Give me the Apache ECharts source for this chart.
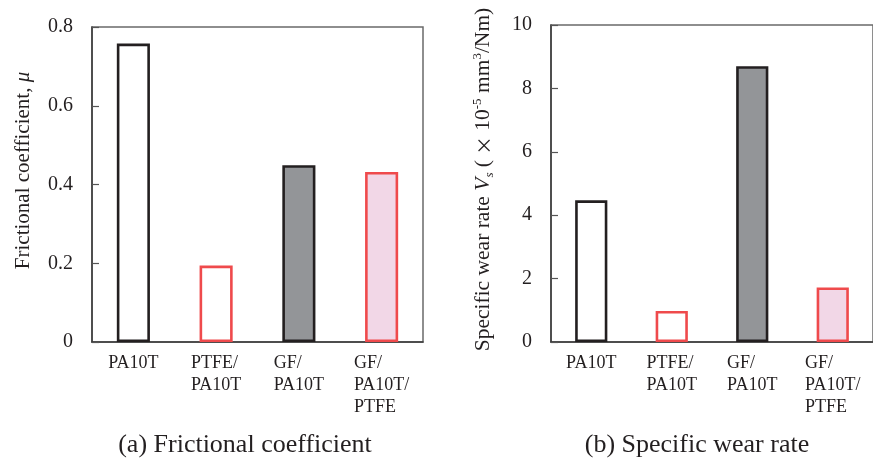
<!DOCTYPE html>
<html>
<head>
<meta charset="utf-8">
<script src="https://cdn.jsdelivr.net/npm/echarts@6/dist/echarts.min.js"></script>
<style>
html,body{margin:0;padding:0;background:#fff;}
#chart{width:873px;height:460px;}
</style>
</head>
<body>
<div id="chart"></div>
<script>
const categories = ['PA10T', 'PTFE/\nPA10T', 'GF/\nPA10T', 'GF/\nPA10T/\nPTFE'];
const frictionValues = [0.758, 0.194, 0.449, 0.432];
const wearValues = [4.47, 0.98, 8.70, 1.72];
const fillColors = ['#ffffff', '#ffffff', '#939598', '#f2d7e7'];
const borderColors = ['#231f20', '#ef4a4c', '#231f20', '#ef4a4c'];
const captions = ['(a) Frictional coefficient', '(b) Specific wear rate'];

const FONT = '"Liberation Serif", "Times New Roman", serif';
const SANS = '"Noto Sans CJK JP", "Noto Sans", sans-serif';
const TXT = '#231f20';

function barData(vals) {
  return vals.map((v, i) => ({
    value: v,
    itemStyle: { color: fillColors[i], borderColor: borderColors[i], borderWidth: 2.6 }
  }));
}

function catLabel(v) {
  return v.split('\n').map(s => '{l|' + s + '}').join('\n');
}

function xAxisDef(idx) {
  return {
    type: 'category', gridIndex: idx, data: categories,
    axisLine: { show: true, lineStyle: { color: '#3a3a3a', width: 1.5 } },
    axisTick: { show: false },
    axisLabel: {
      interval: 0, margin: 10, color: TXT, fontFamily: FONT, fontSize: 18, lineHeight: 22,
      formatter: catLabel,
      rich: { l: { align: 'left', fontFamily: FONT, fontSize: 18, lineHeight: 22, color: TXT } }
    }
  };
}

function yAxisDef(idx, max, interval, name, gap, rich, pad) {
  return {
    type: 'value', gridIndex: idx, min: 0, max: max, interval: interval,
    name: name, nameLocation: 'middle', nameRotate: 90, nameGap: gap,
    nameTextStyle: { color: TXT, fontFamily: FONT, fontSize: 21, rich: rich, padding: pad },
    axisLine: { show: true, lineStyle: { color: '#3a3a3a', width: 1.5 } },
    axisTick: { show: true, inside: true, length: 7, lineStyle: { color: '#555', width: 1.2 } },
    splitLine: { show: false },
    axisLabel: { margin: 19, color: TXT, fontFamily: FONT, fontSize: 20 }
  };
}

const chart = echarts.init(document.getElementById('chart'), null, { renderer: 'canvas' });
chart.setOption({
  animation: false,
  backgroundColor: '#ffffff',
  grid: [
    { left: 92, top: 27, width: 331, height: 315, show: true, borderColor: '#6a6a6a', borderWidth: 1.5, backgroundColor: 'transparent' },
    { left: 551, top: 25, width: 330, height: 317, show: true, borderColor: '#6a6a6a', borderWidth: 1.5, backgroundColor: 'transparent' }
  ],
  xAxis: [xAxisDef(0), xAxisDef(1)],
  yAxis: [
    yAxisDef(0, 0.8, 0.2, '{n|Frictional coefficient, }{i|μ}', 58, {
      n: { fontFamily: FONT, fontSize: 21, color: TXT },
      i: { fontFamily: FONT, fontSize: 21, fontStyle: 'italic', color: TXT }
    }, [0, 0, 0, 28]),
    yAxisDef(1, 10, 2, '{n|Specific wear rate }{i|V}{sub|s}{n| ( }{x|×}{n| 10}{sup|-5}{n| mm}{sup|3}{n|/Nm)}', 55, {
      n: { fontFamily: FONT, fontSize: 21.5, color: TXT, lineHeight: 25 },
      i: { fontFamily: FONT, fontSize: 21.5, fontStyle: 'italic', color: TXT, lineHeight: 25 },
      x: { fontFamily: SANS, fontSize: 18.5, color: TXT, lineHeight: 25 },
      sub: { fontFamily: FONT, fontSize: 13, fontStyle: 'italic', color: TXT, verticalAlign: 'bottom', lineHeight: 13 },
      sup: { fontFamily: FONT, fontSize: 13, color: TXT, verticalAlign: 'top', lineHeight: 13 }
    }, [0, 0, 0, 8])
  ],
  series: [
    { type: 'bar', xAxisIndex: 0, yAxisIndex: 0, barWidth: '40%', data: barData(frictionValues) },
    { type: 'bar', xAxisIndex: 1, yAxisIndex: 1, barWidth: '40%', data: barData(wearValues) }
  ],
  graphic: [
    { type: 'text', x: 245, y: 445, style: { text: captions[0], fontFamily: FONT, fontSize: 26, fill: TXT, align: 'center', verticalAlign: 'middle' } },
    { type: 'text', x: 697, y: 445, style: { text: captions[1], fontFamily: FONT, fontSize: 26, fill: TXT, align: 'center', verticalAlign: 'middle' } }
  ]
});
</script>
</body>
</html>
